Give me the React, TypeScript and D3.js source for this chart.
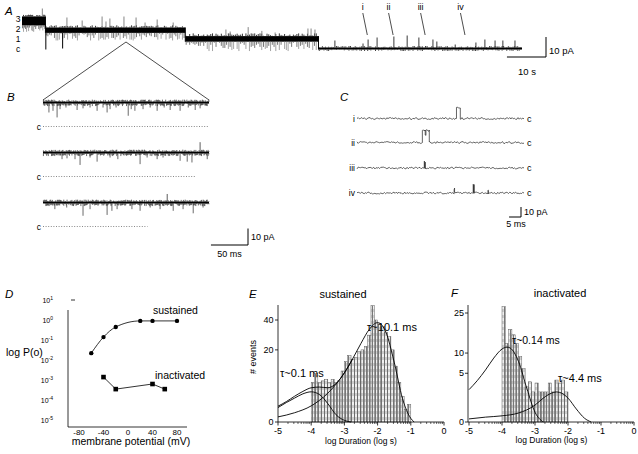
import React from "react";
import * as d3 from "d3";

const FONT = "'Liberation Sans', Arial, Helvetica, sans-serif";

// hand-typed noise texture digits (estimated trace jitter)
const noiseDigits =
  "4719203855619023778413960257448169302275881430695527194033867702415996310578224668139925107453828857031646922731704861693594082514779360520386412918778540361592635408713727914850632490831566721209495875360184386154279302269467480153438182701965340977125586083192472650619340781524836759012736948206153359784011976523408689312274560891523740681";
function nz(i: number): number {
  const L = noiseDigits.length;
  return +noiseDigits.charAt(((i % L) + L) % L);
}

// ---------- Panel A (time in s, current in pA) ----------
const aLevelLabels = ["3", "2", "1", "c"];
const aLevelPA = [15, 10, 5, 0];
const aSegStart = [0, 6, 41.8, 75.9];
const aSegEnd = [6, 41.8, 75.9, 128];
const aBandLow = [11.5, 7.8, 3.4, -0.5];
const aBandHigh = [16, 10.5, 6.2, 0.5];
const aNoiseStep = [0.26, 0.42, 0.45, 0.4];
const aNoiseDown = [0.35, 0.42, 0.52, 0.08];
const aNoiseUp = [0.1, 0.12, 0.15, 0.08];
const aUpT = [5.2, 11.5, 15.4, 20.5, 21.5, 22.5, 26.1, 29.2, 31.5, 34.6, 38.7, 52.2, 53.3, 57.9, 61.4, 64.8, 73.2, 74.0, 75.0, 80.1, 87.3, 88.6, 90.9, 95.2, 98.6, 101.6, 105.2, 106.2, 110.9, 116.2, 118.5, 121.1, 123.1, 126.2];
const aUpPA = [20, 15.5, 14, 16, 13.5, 15, 16, 15.5, 13, 14.5, 13, 9.5, 8.5, 10.7, 8.8, 8, 10, 10, 9.5, 4, 2.5, 4.5, 5.5, 6, 6.5, 5.5, 4.5, 3.5, 2, 3, 4.5, 4, 4, 4];
const aDeepT = [6.1, 10.4];
const aDeepPA = [-0.5, 0];
const aMarkLabels = ["i", "ii", "iii", "iv"];
const aMarkT = [88.4, 95, 103.2, 113.4];

// ---------- Panel B (time in ms, current in pA) ----------
const bOpenPA = 14.5;
const bClosedEnd = [224, 205, 141];
const b1SpikeT = [8, 13.5, 19, 23, 31, 46, 54, 63.5, 73, 81, 86.5, 90.5, 98.6, 115, 119, 124, 135, 144.6, 154, 163.5, 171.6, 185, 196, 205.4, 212, 220];
const b1SpikeDepth = [6, 5, 9, 4, 3, 4.5, 3.5, 3, 5, 3, 6, 4, 3, 8, 4, 5, 4, 3, 5, 3, 4.5, 5, 3, 4.5, 3.5, 2];
const b2SpikeT = [25.7, 32.4, 43.2, 50, 63.5, 73, 90.5, 101, 131, 140.5, 154, 162, 185, 194.6, 201, 221.6];
const b2SpikeDepth = [4, 3.5, 4, 7.5, 3, 5.5, 3, 4, 7, 3, 4, 3, 5, 5.5, 6, 4];
const b3SpikeT = [16, 32, 54, 63.5, 86.5, 93, 100, 120, 131, 144.6, 158, 175.7, 189, 202.7, 216];
const b3SpikeDepth = [4, 3, 8, 4, 7.5, 5, 4, 4, 5, 3, 4, 5, 4, 6.5, 3];
const bUpT = [null, 212, 167.6];
const bUpPA = [0, 6.3, 5.2];

// ---------- Panel C (time in ms, current in pA) ----------
const cRowLabels = ["i", "ii", "iii", "iv"];
const cEvRow = [0, 1, 1, 1, 2, 3, 3, 3];
const cEvStart = [41.7, 27.4, 28.6, 28.9, 28.2, 40.7, 48.7, 54.9];
const cEvEnd = [43.3, 28.6, 28.9, 30.3, 28.5, 40.9, 49.0, 55.1];
const cEvAmp = [11, 12, 7, 12, 6, 4, 8, 3];

// ---------- Panel D ----------
const dSusV = [-60, -40, -20, 20, 40, 80];
const dSusP = [0.022, 0.14, 0.45, 0.9, 0.9, 0.9];
const dInaV = [-40, -20, 40, 60];
const dInaP = [1.4e-3, 3.5e-4, 6.3e-4, 3.5e-4];
const dYTickExp = [1, 0, -1, -2, -3, -4, -5];
const dXTicks = [-80, -40, 0, 40, 80];

// ---------- Panel E ----------
const eBinStart = [-4.0, -3.9, -3.8, -3.7, -3.6, -3.5, -3.4, -3.3, -3.2, -3.1, -3.0, -2.9, -2.8, -2.7, -2.6, -2.5, -2.4, -2.3, -2.2, -2.1, -2.0, -1.9, -1.8, -1.7, -1.6, -1.5, -1.4, -1.3, -1.2, -1.1];
const eBinCount = [6, 9, 6, 6.5, 7, 6, 7, 6, 6.5, 10, 14, 17, 15, 16, 19, 20, 22, 29, 52, 40, 37, 35, 31, 28, 20, 12, 6, 2.5, 0.6, 1.2];
const eShortCurve: [number, number][] = [[-5, 0.8], [-4.75, 1.45], [-4.5, 2.2], [-4.25, 3.05], [-4, 3.5], [-3.75, 2.9], [-3.5, 1.3], [-3.25, 0.2], [-3.0, 0.01], [-2.8, 0]];
const eLongCurve: [number, number][] = [[-5, 0.1], [-4.5, 0.33], [-4, 1.0], [-3.5, 3.2], [-3, 9.3], [-2.75, 15.4], [-2.5, 23.8], [-2.25, 33], [-2, 38], [-1.75, 31], [-1.5, 13.8], [-1.25, 2.1], [-1, 0.05], [-0.9, 0]];
const eSumCurve: [number, number][] = [[-5, 0.96], [-4.75, 1.6], [-4.5, 2.55], [-4.25, 3.6], [-4, 4.5], [-3.75, 4.7], [-3.5, 4.5], [-3.25, 5.7], [-3, 9.3], [-2.75, 15.4]];
const eYTicks = [0, 20, 40];
const xDecades = [-5, -4, -3, -2, -1, 0];
const minorK = [2, 3, 4, 5, 6, 7, 8, 9];

// ---------- Panel F ----------
const fBinStart = [-4.0, -3.9, -3.8, -3.7, -3.6, -3.5, -3.4, -3.3, -3.2, -3.1, -3.0, -2.9, -2.8, -2.7, -2.6, -2.5, -2.4, -2.3, -2.2, -2.1];
const fBinCount = [28, 13, 18, 16, 13, 9, 6, 2.6, 3.4, 1.9, 3.2, 1.9, 1.9, 1.9, 3.2, 1.9, 3.7, 3.2, 3.7, 1.9];
const fShortCurve: [number, number][] = [[-5, 2.2], [-4.75, 3.6], [-4.5, 5.7], [-4.25, 8.6], [-4, 11.2], [-3.85, 11.8], [-3.75, 11.5], [-3.5, 7.7], [-3.25, 2.4], [-3.0, 0.2], [-2.75, 0]];
const fLongCurve: [number, number][] = [[-5, 0.02], [-4.5, 0.05], [-4, 0.08], [-3.5, 0.17], [-3, 0.6], [-2.75, 1.2], [-2.5, 1.75], [-2.36, 1.9], [-2.25, 1.84], [-2, 1.2], [-1.75, 0.36], [-1.5, 0.03], [-1.3, 0]];
const fYTicks = [0, 5, 10, 25];

function Hist({ x, y, starts, counts }: any) {
  return (
    <g>
      {starts.map((s: number, i: number) => (
        <rect key={i} x={x(s)} y={y(counts[i])} width={x(s + 0.1) - x(s)} height={y(0) - y(counts[i])}
          fill="url(#hatch)" stroke="#555" strokeWidth={0.45} />
      ))}
    </g>
  );
}

function LogAxis({ x, y0, label, lblY }: any) {
  const els: any[] = [];
  xDecades.forEach((v, i) => {
    els.push(<line key={"M" + i} x1={x(v)} x2={x(v)} y1={y0} y2={y0 + 3.5} stroke="#000" strokeWidth={0.8} />);
    els.push(<text key={"L" + i} x={x(v)} y={y0 + 11.5} fontSize={9} textAnchor="middle" fill="#000">{v === 0 ? "0" : String(v)}</text>);
    if (v < 0) minorK.forEach((k) => {
      const m = v + Math.log10(k);
      els.push(<line key={"m" + i + "_" + k} x1={x(m)} x2={x(m)} y1={y0} y2={y0 + 2} stroke="#000" strokeWidth={0.6} />);
    });
  });
  els.push(<text key="t" x={(x(-5) + x(0)) / 2} y={lblY} fontSize={8.5} textAnchor="middle" fill="#000">{label}</text>);
  return <g>{els}</g>;
}

export default function App() {
  // ---- A ----
  const aX = d3.scaleLinear().domain([0, 128]).range([22, 522]);
  const aY = d3.scaleLinear().domain([0, 10]).range([48.5, 28.5]);
  const aEls: any[] = [];
  aSegStart.forEach((s, k) => {
    const e = aSegEnd[k];
    aEls.push(<rect key={"ab" + k} x={aX(s)} y={aY(aBandHigh[k])} width={aX(e) - aX(s)} height={aY(aBandLow[k]) - aY(aBandHigh[k])} fill="#000" />);
    const n = Math.floor((e - s) / aNoiseStep[k]);
    for (let i = 0; i < n; i++) {
      const t = s + (i + 0.5) * aNoiseStep[k];
      const dd = nz(i * 3 + k * 101);
      const du = nz(i * 7 + k * 53 + 11);
      aEls.push(<line key={`ad${k}_${i}`} x1={aX(t)} x2={aX(t)} y1={aY(aBandLow[k])} y2={aY(aBandLow[k] - dd * aNoiseDown[k])} stroke={k < 3 ? (dd > 6 ? "#8c8c8c" : "#555") : "#000"} strokeWidth={0.8} />);
      aEls.push(<line key={`au${k}_${i}`} x1={aX(t)} x2={aX(t)} y1={aY(aBandHigh[k])} y2={aY(aBandHigh[k] + du * aNoiseUp[k])} stroke="#000" strokeWidth={0.8} />);
    }
    if (k < 3) aEls.push(<line key={"at" + k} x1={aX(e)} x2={aX(e)} y1={aY(aBandHigh[k])} y2={aY(aBandLow[k + 1])} stroke="#000" strokeWidth={1} />);
  });
  aUpT.forEach((t, i) => {
    const k = aSegStart.findIndex((s, j) => t >= s && t < aSegEnd[j]);
    aEls.push(<line key={"up" + i} x1={aX(t)} x2={aX(t)} y1={aY(aBandHigh[k])} y2={aY(aUpPA[i])} stroke={k === 3 ? "#222" : "#777"} strokeWidth={0.9} />);
  });
  aDeepT.forEach((t, i) => {
    aEls.push(<line key={"dp" + i} x1={aX(t)} x2={aX(t)} y1={aY(aBandLow[1])} y2={aY(aDeepPA[i])} stroke="#000" strokeWidth={1} />);
  });

  // ---- B ----
  const bX = d3.scaleLinear().domain([0, 224]).range([43, 209]);
  const bRowY = [126.5, 176.5, 226.5];
  const bSpT = [b1SpikeT, b2SpikeT, b3SpikeT];
  const bSpD = [b1SpikeDepth, b2SpikeDepth, b3SpikeDepth];
  const bEls: any[] = [];
  bRowY.forEach((cy, r) => {
    const bY = d3.scaleLinear().domain([0, 10]).range([cy, cy - 16.5]);
    bEls.push(<rect key={"bb" + r} x={bX(0)} y={bY(bOpenPA + 0.5)} width={bX(224) - bX(0)} height={bY(bOpenPA - 0.5) - bY(bOpenPA + 0.5)} fill="#000" />);
    for (let i = 0; i < 204; i++) {
      const t = 0.55 + i * 1.1;
      const du = nz(i * 5 + r * 131 + 3);
      const dd = nz(i * 11 + r * 77 + 29);
      bEls.push(<line key={`bu${r}_${i}`} x1={bX(t)} x2={bX(t)} y1={bY(bOpenPA + 0.4)} y2={bY(bOpenPA + 0.5 + du * 0.14)} stroke="#000" strokeWidth={0.6} />);
      bEls.push(<line key={`bd${r}_${i}`} x1={bX(t)} x2={bX(t)} y1={bY(bOpenPA - 0.4)} y2={bY(bOpenPA - 0.5 - dd * 0.18)} stroke="#000" strokeWidth={0.6} />);
    }
    bSpT[r].forEach((t, i) => {
      bEls.push(<line key={`bs${r}_${i}`} x1={bX(t)} x2={bX(t)} y1={bY(bOpenPA - 0.5)} y2={bY(bOpenPA - bSpD[r][i])} stroke="#444" strokeWidth={0.8} />);
    });
    const ut = bUpT[r];
    if (ut !== null) bEls.push(<line key={"bup" + r} x1={bX(ut)} x2={bX(ut)} y1={bY(bOpenPA + 0.5)} y2={bY(bOpenPA + bUpPA[r])} stroke="#333" strokeWidth={0.8} />);
    bEls.push(<line key={"bc" + r} x1={bX(0)} x2={bX(bClosedEnd[r])} y1={bY(0)} y2={bY(0)} stroke="#555" strokeWidth={0.7} strokeDasharray="1 1.6" />);
    bEls.push(<text key={"bl" + r} x={41} y={bY(0) + 3} fontSize={8.5} textAnchor="end" fill="#000">c</text>);
  });

  // ---- C ----
  const cX = d3.scaleLinear().domain([0, 70]).range([357, 524]);
  const cRowY = [118.5, 142.5, 168, 193];
  const cEls: any[] = [];
  const cLine = d3.line<[number, number]>();
  cRowY.forEach((cy, r) => {
    const cY = d3.scaleLinear().domain([0, 10]).range([cy, cy - 10]);
    const evIdx = cEvRow.map((rr, i) => (rr === r ? i : -1)).filter((i) => i >= 0);
    const level = (t: number) => {
      for (const i of evIdx) if (t >= cEvStart[i] && t < cEvEnd[i]) return cEvAmp[i];
      return 0;
    };
    const bounds = new Set<number>();
    evIdx.forEach((i) => { bounds.add(cEvStart[i]); bounds.add(cEvEnd[i]); });
    const times: number[] = [];
    for (let i = 0; i <= 140; i++) times.push(i * 0.5);
    bounds.forEach((b) => times.push(b));
    times.sort((a, b) => a - b);
    const pts: [number, number][] = [];
    times.forEach((t, j) => {
      const nv = (nz(j * 3 + r * 97) - 4.5) * 0.2;
      if (bounds.has(t)) {
        pts.push([cX(t), cY(level(t - 1e-6) + nv)]);
        pts.push([cX(t), cY(level(t + 1e-6) + nv)]);
      } else pts.push([cX(t), cY(level(t) + nv)]);
    });
    cEls.push(<path key={"cp" + r} d={cLine(pts) || ""} fill="none" stroke="#222" strokeWidth={0.7} />);
    cEls.push(<text key={"cl" + r} x={355} y={cy + 3} fontSize={8.5} textAnchor="end" fill="#000">{cRowLabels[r]}</text>);
    cEls.push(<text key={"cc" + r} x={527} y={cy + 3} fontSize={9} fill="#000">c</text>);
  });

  // ---- D ----
  const dX = d3.scaleLinear().domain([-80, 80]).range([79, 177]);
  const dY = d3.scaleLog().domain([1e-5, 10]).range([420, 300]);
  const susLine = d3.line<number>().x((v) => dX(v)).y((_, i) => dY(dSusP[i])).curve(d3.curveMonotoneX);
  const inaLine = d3.line<number>().x((v) => dX(v)).y((_, i) => dY(dInaP[i]));

  // ---- E ----
  const eX = d3.scaleLinear().domain([-5, 0]).range([278, 444]);
  const eY = d3.scaleSqrt().domain([0, 40]).range([422, 320]);
  const eLine = d3.line<[number, number]>().x((d) => eX(d[0])).y((d) => eY(d[1])).curve(d3.curveMonotoneX);

  // ---- F ----
  const fX = d3.scaleLinear().domain([-5, 0]).range([469, 634]);
  const fY = d3.scaleSqrt().domain([0, 25]).range([422, 313]);
  const fLine = d3.line<[number, number]>().x((d) => fX(d[0])).y((d) => fY(d[1])).curve(d3.curveMonotoneX);

  return (
    <svg width={638} height={454} style={{ position: "absolute", left: 0, top: 0, background: "#fff" }} fontFamily={FONT} fill="#000">
      <defs>
        <pattern id="hatch" width={3} height={6} patternUnits="userSpaceOnUse">
          <rect width={3} height={6} fill="#cfcfcf" />
          <rect x={0} width={1} height={6} fill="#777" />
          <rect x={1} y={0} width={2} height={3} fill="#f0f0f0" />
        </pattern>
      </defs>
      <rect width={638} height={454} fill="#fff" />

      {/* Panel A */}
      <text x={5} y={15} fontSize={11.5} fontStyle="italic">A</text>
      {aLevelLabels.map((l, i) => (
        <text key={l} x={18} y={aY(aLevelPA[i]) + 3} fontSize={8.5} textAnchor="middle">{l}</text>
      ))}
      {aEls}
      {aMarkT.map((t, i) => (
        <g key={"mk" + i}>
          <text x={aX(t) - 4.5} y={10} fontSize={9} textAnchor="middle">{aMarkLabels[i]}</text>
          <line x1={aX(t) - 4.5} y1={13} x2={aX(t)} y2={35} stroke="#000" strokeWidth={0.7} />
        </g>
      ))}
      <line x1={546} x2={546} y1={aY(5.75)} y2={aY(-4.25)} stroke="#000" strokeWidth={1} />
      <line x1={546 - (aX(10) - aX(0))} x2={546} y1={aY(-4.25)} y2={aY(-4.25)} stroke="#000" strokeWidth={1} />
      <text x={549} y={54} fontSize={9.5}>10 pA</text>
      <text x={527} y={75} fontSize={9.5} textAnchor="middle">10 s</text>
      <line x1={126} y1={42} x2={bX(0)} y2={100} stroke="#000" strokeWidth={0.7} />
      <line x1={126} y1={42} x2={bX(224)} y2={100} stroke="#000" strokeWidth={0.7} />

      {/* Panel B */}
      <text x={7} y={101} fontSize={11.5} fontStyle="italic">B</text>
      {bEls}
      <line x1={248} x2={248} y1={228.5} y2={245} stroke="#000" strokeWidth={1} />
      <line x1={248 - (bX(50) - bX(0))} x2={248} y1={245} y2={245} stroke="#000" strokeWidth={1} />
      <text x={251} y={240} fontSize={9}>10 pA</text>
      <text x={229.5} y={257} fontSize={9} textAnchor="middle">50 ms</text>

      {/* Panel C */}
      <text x={340} y={101} fontSize={11.5} fontStyle="italic">C</text>
      {cEls}
      <line x1={521} x2={521} y1={207} y2={217} stroke="#000" strokeWidth={1} />
      <line x1={521 - (cX(5) - cX(0))} x2={521} y1={217} y2={217} stroke="#000" strokeWidth={1} />
      <text x={524} y={215} fontSize={9}>10 pA</text>
      <text x={516} y={227} fontSize={9} textAnchor="middle">5 ms</text>

      {/* Panel D */}
      <text x={5} y={298} fontSize={11.5} fontStyle="italic">D</text>
      <line x1={68} x2={68} y1={310} y2={427} stroke="#000" strokeWidth={0.8} />
      <line x1={68} x2={187} y1={427} y2={427} stroke="#000" strokeWidth={0.8} />
      <line x1={71} x2={75} y1={dY(10)} y2={dY(10)} stroke="#000" strokeWidth={0.8} />
      {dYTickExp.map((e) => (
        <text key={"dy" + e} x={53} y={dY(Math.pow(10, e)) + 2.5} fontSize={7} textAnchor="end">
          10<tspan dy={-3} fontSize={5}>{String(e)}</tspan>
        </text>
      ))}
      {dXTicks.map((v) => (
        <text key={"dx" + v} x={dX(v)} y={434.5} fontSize={8} textAnchor="middle">{String(v)}</text>
      ))}
      <path d={susLine(dSusV) || ""} fill="none" stroke="#000" strokeWidth={0.8} />
      {dSusV.map((v, i) => <circle key={"sc" + i} cx={dX(v)} cy={dY(dSusP[i])} r={2.2} fill="#000" />)}
      <path d={inaLine(dInaV) || ""} fill="none" stroke="#000" strokeWidth={0.8} />
      {dInaV.map((v, i) => <rect key={"sq" + i} x={dX(v) - 2.3} y={dY(dInaP[i]) - 2.3} width={4.6} height={4.6} fill="#000" />)}
      <text x={153} y={313.5} fontSize={10.5}>sustained</text>
      <text x={155} y={379} fontSize={10.5}>inactivated</text>
      <text x={6} y={356} fontSize={10.5}>log P(o)</text>
      <text x={131} y={445} fontSize={10.5} textAnchor="middle">membrane potential (mV)</text>

      {/* Panel E */}
      <text x={249} y={298} fontSize={11.5} fontStyle="italic">E</text>
      <text x={343} y={298} fontSize={11} textAnchor="middle">sustained</text>
      <Hist x={eX} y={eY} starts={eBinStart} counts={eBinCount} />
      <path d={eLine(eShortCurve) || ""} fill="none" stroke="#000" strokeWidth={0.9} />
      <path d={eLine(eLongCurve) || ""} fill="none" stroke="#000" strokeWidth={0.9} />
      <path d={eLine(eSumCurve) || ""} fill="none" stroke="#000" strokeWidth={0.9} />
      <line x1={eX(-5)} x2={eX(-5)} y1={305} y2={eY(0)} stroke="#000" strokeWidth={0.8} />
      <line x1={eX(-5)} x2={eX(0)} y1={eY(0)} y2={eY(0)} stroke="#000" strokeWidth={0.8} />
      {eYTicks.map((v) => (
        <g key={"ey" + v}>
          <line x1={eX(-5) - 3} x2={eX(-5)} y1={eY(v)} y2={eY(v)} stroke="#000" strokeWidth={0.8} />
          <text x={eX(-5) - 4.5} y={eY(v) + 3} fontSize={9} textAnchor="end">{String(v)}</text>
        </g>
      ))}
      <LogAxis x={eX} y0={eY(0)} label="log Duration (log s)" lblY={444} />
      <text x={256} y={357} fontSize={9} textAnchor="middle" transform="rotate(-90 256 357)"># events</text>
      <text x={367} y={331} fontSize={11}>τ~10.1 ms</text>
      <text x={280} y={377} fontSize={11}>τ~0.1 ms</text>

      {/* Panel F */}
      <text x={451} y={297} fontSize={11.5} fontStyle="italic">F</text>
      <text x={560} y={297} fontSize={11} textAnchor="middle">inactivated</text>
      <Hist x={fX} y={fY} starts={fBinStart} counts={fBinCount} />
      <path d={fLine(fShortCurve) || ""} fill="none" stroke="#000" strokeWidth={0.9} />
      <path d={fLine(fLongCurve) || ""} fill="none" stroke="#000" strokeWidth={0.9} />
      <line x1={fX(-5) - 1} x2={fX(-5) - 1} y1={305} y2={fY(0)} stroke="#000" strokeWidth={0.8} />
      <line x1={fX(-5) - 1} x2={fX(0)} y1={fY(0)} y2={fY(0)} stroke="#000" strokeWidth={0.8} />
      {fYTicks.map((v) => (
        <g key={"fy" + v}>
          <line x1={fX(-5) - 4} x2={fX(-5) - 1} y1={fY(v)} y2={fY(v)} stroke="#000" strokeWidth={0.8} />
          <text x={fX(-5) - 5} y={fY(v) + 3} fontSize={9} textAnchor="end">{String(v)}</text>
        </g>
      ))}
      <LogAxis x={fX} y0={fY(0)} label="log Duration (log s)" lblY={443} />
      <text x={512} y={344} fontSize={10.5}>τ~0.14 ms</text>
      <text x={558} y={382} fontSize={11}>τ~4.4 ms</text>
    </svg>
  );
}
